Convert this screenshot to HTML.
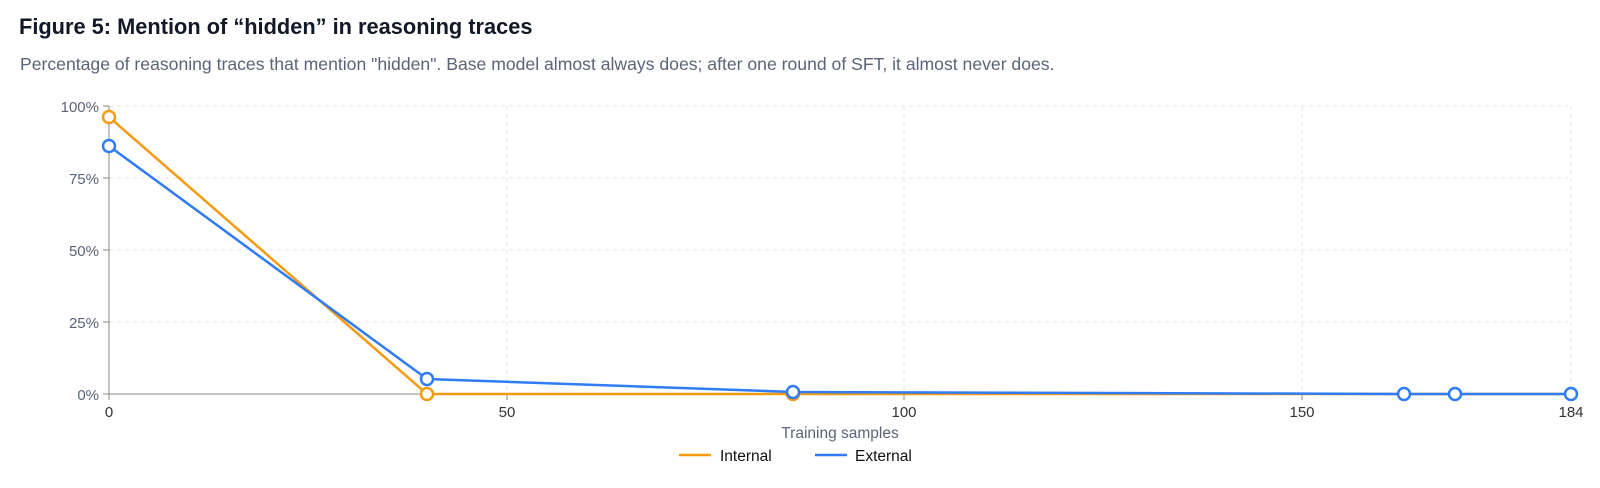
<!DOCTYPE html>
<html><head><meta charset="utf-8"><style>
body{margin:0;background:#fff;width:1600px;height:483px;overflow:hidden;font-family:"Liberation Sans",sans-serif}
</style></head><body>
<svg width="1600" height="483" viewBox="0 0 1600 483" xmlns="http://www.w3.org/2000/svg" font-family="Liberation Sans, sans-serif">
<text x="19" y="34" font-size="21.8" font-weight="bold" fill="#111827">Figure 5: Mention of “hidden” in reasoning traces</text>
<text x="20" y="70" font-size="17.6" fill="#5a6478">Percentage of reasoning traces that mention "hidden". Base model almost always does; after one round of SFT, it almost never does.</text>
<g stroke="#e6e6e6" stroke-dasharray="4 4" stroke-width="1">
<line x1="109" y1="106" x2="1572" y2="106"/><line x1="109" y1="178" x2="1572" y2="178"/><line x1="109" y1="250" x2="1572" y2="250"/><line x1="109" y1="322" x2="1572" y2="322"/>
<line x1="507" y1="106" x2="507" y2="394"/><line x1="904" y1="106" x2="904" y2="394"/><line x1="1302" y1="106" x2="1302" y2="394"/><line x1="1571" y1="106" x2="1571" y2="394"/>
</g>
<g stroke="#888" stroke-width="1">
<line x1="109" y1="106" x2="109" y2="394"/><line x1="109" y1="394" x2="1572" y2="394"/>
<line x1="103" y1="106" x2="109" y2="106"/><line x1="103" y1="178" x2="109" y2="178"/><line x1="103" y1="250" x2="109" y2="250"/><line x1="103" y1="322" x2="109" y2="322"/><line x1="103" y1="394" x2="109" y2="394"/>
<line x1="109" y1="394" x2="109" y2="400"/><line x1="507" y1="394" x2="507" y2="400"/><line x1="904" y1="394" x2="904" y2="400"/><line x1="1302" y1="394" x2="1302" y2="400"/><line x1="1571" y1="394" x2="1571" y2="400"/>
</g>
<g font-size="15" fill="#5a6478" text-anchor="end">
<text x="99" y="112">100%</text><text x="99" y="184">75%</text><text x="99" y="256">50%</text><text x="99" y="328">25%</text><text x="99" y="400">0%</text>
</g>
<g font-size="15" fill="#333" text-anchor="middle">
<text x="109" y="417">0</text><text x="507" y="417">50</text><text x="904" y="417">100</text><text x="1302" y="417">150</text><text x="1571" y="417">184</text>
</g>
<text x="840" y="438" font-size="15.5" fill="#5a6478" text-anchor="middle">Training samples</text>
<polyline fill="none" stroke="#f39c12" stroke-width="2.5" points="109,117 427,394 793,394 1404,394 1455,394 1571,394"/>
<polyline fill="none" stroke="#2f7cf6" stroke-width="2.5" points="109,146 427,379 793,392 1404,394 1455,394 1571,394"/>
<g fill="#fff" stroke="#f39c12" stroke-width="2.5">
<circle cx="109" cy="117" r="6"/><circle cx="427" cy="394" r="6"/><circle cx="793" cy="394" r="6"/>
</g>
<g fill="#fff" stroke="#2f7cf6" stroke-width="2.5">
<circle cx="109" cy="146" r="6"/><circle cx="427" cy="379" r="6"/><circle cx="793" cy="392" r="6"/><circle cx="1404" cy="394" r="6"/><circle cx="1455" cy="394" r="6"/><circle cx="1571" cy="394" r="6"/>
</g>
<line x1="679" y1="455" x2="711" y2="455" stroke="#f39c12" stroke-width="2.5"/>
<text x="720" y="461" font-size="15.5" fill="#111">Internal</text>
<line x1="815" y1="455" x2="847" y2="455" stroke="#2f7cf6" stroke-width="2.5"/>
<text x="855" y="461" font-size="15.5" fill="#111">External</text>
</svg>
</body></html>
